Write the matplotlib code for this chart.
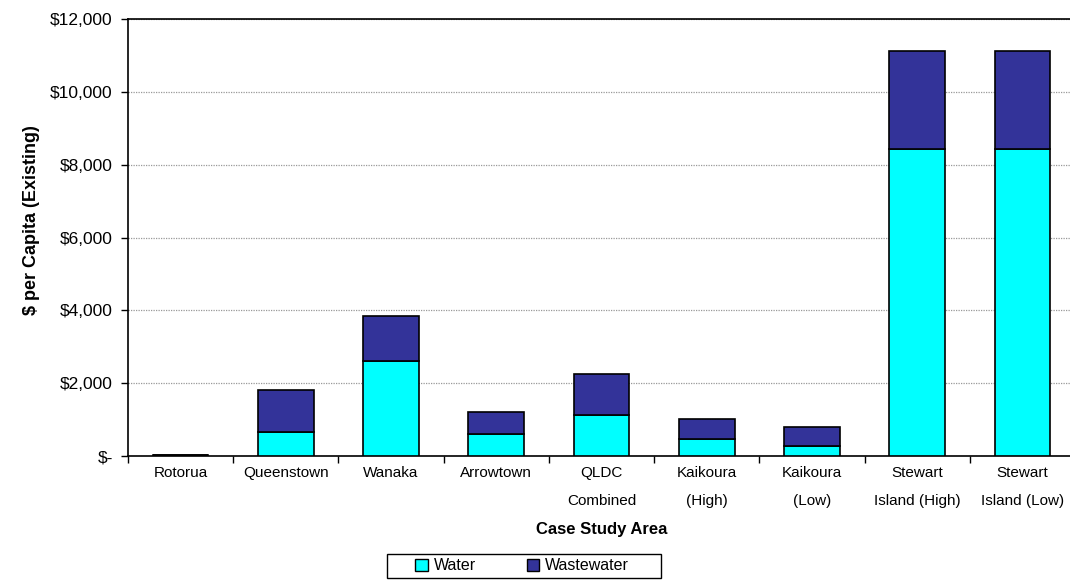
import matplotlib.pyplot as plt
import numpy as np
from matplotlib.ticker import FuncFormatter, FixedLocator
from matplotlib.patches import Rectangle

plt.rcParams['font.family'] = ['Liberation Sans', 'DejaVu Sans']

areas = ["Rotorua", "Queenstown", "Wanaka", "Arrowtown", "QLDC\nCombined",
         "Kaikoura\n(High)", "Kaikoura\n(Low)", "Stewart\nIsland (High)", "Stewart\nIsland (Low)"]
water = [15, 670, 2595, 605, 1125, 465, 265, 8430, 8430]
wastewater = [25, 1155, 1260, 610, 1120, 540, 530, 2700, 2700]

fig = plt.figure(figsize=(10.7, 5.8), dpi=100)
ax = fig.add_axes([128 / 1070, 1 - 456 / 580, 947 / 1070, 437 / 580])

x = np.arange(len(areas))
ax.bar(x, water, width=0.53, color='#00ffff', edgecolor='black', linewidth=1.2,
       label='Water', zorder=3)
ax.bar(x, wastewater, width=0.53, bottom=water, color='#333399', edgecolor='black',
       linewidth=1.2, label='Wastewater', zorder=3)

ax.set_xlim(-0.5, len(areas) - 0.5)
ax.set_ylim(0, 12000)
ax.set_yticks(np.arange(0, 12001, 2000))
ax.yaxis.set_major_formatter(FuncFormatter(lambda v, p: "$-" if v == 0 else "${:,.0f}".format(v)))
ax.yaxis.grid(True, color='#999999', linestyle=(0, (1, 1)), linewidth=0.9, zorder=0)

# labels centred under bars, tick marks on the category boundaries
ax.set_xticks(x)
ax.set_xticklabels(areas, fontsize=11, linespacing=2.3)
ax.xaxis.set_minor_locator(FixedLocator(np.arange(-0.5, len(areas), 1.0)))
ax.tick_params(axis='x', which='major', length=0, pad=7)
ax.tick_params(axis='x', which='minor', length=5, width=1, direction='out')
ax.tick_params(axis='y', length=5, width=1, labelsize=12.5, pad=6)

ax.spines['right'].set_visible(False)
for s in ['left', 'bottom', 'top']:
    ax.spines[s].set_linewidth(1.2)

ax.set_xlabel('Case Study Area', fontsize=12, fontweight='bold', labelpad=10)
ax.set_ylabel('$ per Capita (Existing)', fontsize=13, fontweight='bold')
ax.yaxis.set_label_coords(-0.093, 0.54)

leg = fig.legend(loc='center', bbox_to_anchor=(522 / 1070, 1 - 566 / 580), ncol=2,
                 fontsize=11.5, frameon=False,
                 handlelength=0.8, handleheight=0.8, handletextpad=0.35,
                 columnspacing=3.2, borderpad=0.3)
for h in leg.legend_handles:
    h.set_linewidth(1.0)

# legend box drawn separately for wider side padding
fig.patches.append(Rectangle((387 / 1070, 1 - 578 / 580), 274 / 1070, 24 / 580,
                             transform=fig.transFigure, fill=False,
                             edgecolor='black', linewidth=1.0))

plt.savefig('out.png', dpi=100)
